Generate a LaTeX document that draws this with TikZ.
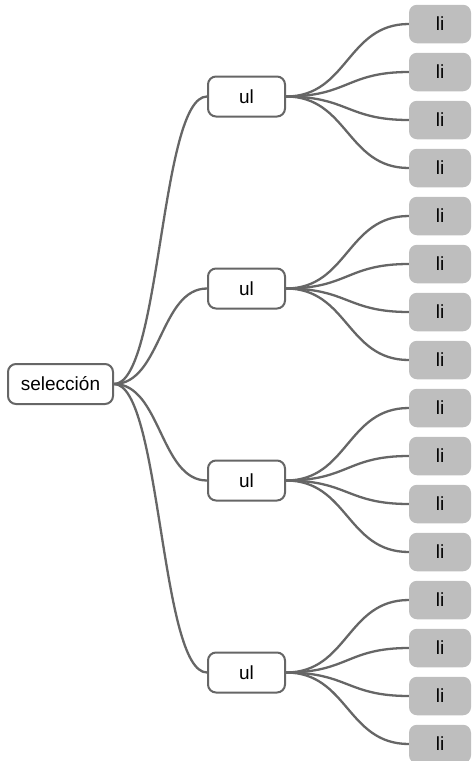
\documentclass[tikz,border=0pt]{standalone}
\usepackage{fontspec}
\setmainfont{Liberation Sans}
\definecolor{linegray}{HTML}{666666}
\definecolor{leafgray}{HTML}{BEBEBE}
\tikzset{
    box/.style={draw=linegray, line width=2pt, fill=white, rounded corners=8pt,
        minimum height=40pt, inner sep=0pt, font=\fontsize{19}{22}\selectfont},
    leaf/.style={fill=leafgray, rounded corners=8pt, minimum width=62pt,
        minimum height=38.5pt, inner sep=0pt, font=\fontsize{19}{22}\selectfont},
    branch/.style={draw=linegray, line width=2.3pt},
}
\begin{document}
\begin{tikzpicture}[x=1pt, y=-1pt]
            \useasboundingbox (0, 0) rectangle (472, 761);

            \node[box, minimum width=105pt] (sel) at (60.5, 384) {selección};

            \node[box, minimum width=77pt] (ul1) at (246.5, 96.5) {ul};
            \node[box, minimum width=77pt] (ul2) at (246.5, 288.5) {ul};
            \node[box, minimum width=77pt] (ul3) at (246.5, 480.5) {ul};
            \node[box, minimum width=77pt] (ul4) at (246.5, 672.5) {ul};

            \node[leaf] (li1) at (440, 24) {li};
            \node[leaf] (li2) at (440, 72) {li};
            \node[leaf] (li3) at (440, 120) {li};
            \node[leaf] (li4) at (440, 168) {li};
            \node[leaf] (li5) at (440, 216) {li};
            \node[leaf] (li6) at (440, 264) {li};
            \node[leaf] (li7) at (440, 312) {li};
            \node[leaf] (li8) at (440, 360) {li};
            \node[leaf] (li9) at (440, 408) {li};
            \node[leaf] (li10) at (440, 456) {li};
            \node[leaf] (li11) at (440, 504) {li};
            \node[leaf] (li12) at (440, 552) {li};
            \node[leaf] (li13) at (440, 600) {li};
            \node[leaf] (li14) at (440, 648) {li};
            \node[leaf] (li15) at (440, 696) {li};
            \node[leaf] (li16) at (440, 744) {li};

            \draw[branch] (sel.east) .. controls +(47, 0) and +(-47, 0) .. (ul1.west);
            \draw[branch] (sel.east) .. controls +(47, 0) and +(-47, 0) .. (ul2.west);
            \draw[branch] (sel.east) .. controls +(47, 0) and +(-47, 0) .. (ul3.west);
            \draw[branch] (sel.east) .. controls +(47, 0) and +(-47, 0) .. (ul4.west);

            \draw[branch] (ul1.east) .. controls +(62, 0) and +(-62, 0) .. (li1.west);
            \draw[branch] (ul1.east) .. controls +(62, 0) and +(-62, 0) .. (li2.west);
            \draw[branch] (ul1.east) .. controls +(62, 0) and +(-62, 0) .. (li3.west);
            \draw[branch] (ul1.east) .. controls +(62, 0) and +(-62, 0) .. (li4.west);

            \draw[branch] (ul2.east) .. controls +(62, 0) and +(-62, 0) .. (li5.west);
            \draw[branch] (ul2.east) .. controls +(62, 0) and +(-62, 0) .. (li6.west);
            \draw[branch] (ul2.east) .. controls +(62, 0) and +(-62, 0) .. (li7.west);
            \draw[branch] (ul2.east) .. controls +(62, 0) and +(-62, 0) .. (li8.west);

            \draw[branch] (ul3.east) .. controls +(62, 0) and +(-62, 0) .. (li9.west);
            \draw[branch] (ul3.east) .. controls +(62, 0) and +(-62, 0) .. (li10.west);
            \draw[branch] (ul3.east) .. controls +(62, 0) and +(-62, 0) .. (li11.west);
            \draw[branch] (ul3.east) .. controls +(62, 0) and +(-62, 0) .. (li12.west);

            \draw[branch] (ul4.east) .. controls +(62, 0) and +(-62, 0) .. (li13.west);
            \draw[branch] (ul4.east) .. controls +(62, 0) and +(-62, 0) .. (li14.west);
            \draw[branch] (ul4.east) .. controls +(62, 0) and +(-62, 0) .. (li15.west);
            \draw[branch] (ul4.east) .. controls +(62, 0) and +(-62, 0) .. (li16.west);
        \end{tikzpicture}
\end{document}
